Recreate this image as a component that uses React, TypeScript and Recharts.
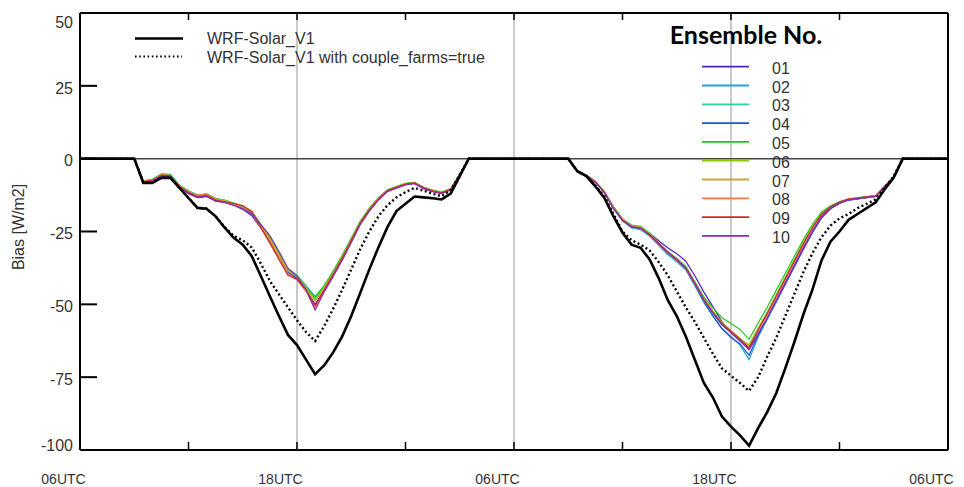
import React from 'react';
import { LineChart, Line, XAxis, YAxis, ReferenceLine } from 'recharts';

// half-hourly steps, 06UTC day 1 -> 06UTC day 3
const hours = [
  0, 0.5, 1, 1.5, 2, 2.5, 3, 3.5, 4, 4.5, 5, 5.5, 6, 6.5, 7, 7.5, 8, 8.5, 9, 9.5,
  10, 10.5, 11, 11.5, 12, 12.5, 13, 13.5, 14, 14.5, 15, 15.5, 16, 16.5, 17, 17.5, 18, 18.5, 19, 19.5,
  20, 20.5, 21, 21.5, 22, 22.5, 23, 23.5, 24, 24.5, 25, 25.5, 26, 26.5, 27, 27.5, 28, 28.5, 29, 29.5,
  30, 30.5, 31, 31.5, 32, 32.5, 33, 33.5, 34, 34.5, 35, 35.5, 36, 36.5, 37, 37.5, 38, 38.5, 39, 39.5,
  40, 40.5, 41, 41.5, 42, 42.5, 43, 43.5, 44, 44.5, 45, 45.5, 46, 46.5, 47, 47.5, 48,
];

const xTicks = [0, 6, 12, 18, 24, 30, 36, 42, 48];
const xTickLabels = ['06UTC', '', '18UTC', '', '06UTC', '', '18UTC', '', '06UTC'];
const yTicks = [-100, -75, -50, -25, 0, 25, 50];

// night-time (bias is zero)
const nightStart = [0, 0, 0, 0, 0, 0, 0];
const nightMid = [0, 0, 0, 0, 0, 0, 0, 0, 0, 0, 0, 0];
const nightEnd = [0, 0, 0, 0, 0, 0];

// daytime values, 09:30 -> 03:00 UTC
const solidDay1 = [-8.3, -8.3, -6.6, -6.6, -10, -13.5, -16.9, -17.2, -19.8, -23.7, -27.2, -29.5, -33.5, -40.3, -47.2, -54, -60.5, -64, -69, -74, -71, -66.5, -61, -54, -46, -38, -30.5, -23.5, -18, -15.5, -13, -13.3, -13.6, -14, -12, -6];
const solidDay2 = [-4.3, -6, -9.5, -13.5, -19.8, -25.4, -29.5, -30.6, -34.6, -41, -48.5, -54, -61, -69, -77, -82, -88.5, -92, -95, -98.5, -92.5, -87, -80.5, -72, -63, -53.5, -45, -35, -28.5, -25, -21, -19, -17, -15, -10.5, -6.5];
const dottedDay1 = [-8.3, -8.3, -6.6, -6.6, -10, -13.5, -16.9, -17.2, -19.8, -23.5, -26.5, -28, -30.5, -36, -42, -46.5, -51, -55.5, -59.5, -62.6, -57.5, -51.5, -45, -38, -31, -25, -19.8, -16, -13.3, -11.5, -10, -11, -12, -12.9, -10.8, -5.5];
const dottedDay2 = [-4.3, -6, -9.3, -13, -19, -25, -28, -29.5, -31.5, -35.5, -40, -45.5, -51, -56, -61.5, -67, -72, -74.5, -77, -79.7, -75, -68, -61.5, -54, -46.5, -39, -32.5, -27, -23, -20.5, -19, -17, -15.5, -14, -10, -6];

const ens01Day1 = [-8.2, -7.8, -6, -6.2, -9.8, -12, -13.4, -13, -14.6, -15, -16, -17.4, -19.6, -23.8, -28.4, -33.6, -39, -41.2, -45.2, -50, -45.4, -40.2, -34.8, -28.6, -22.4, -17.8, -14, -11.2, -10, -8.9, -8.4, -10.2, -11.2, -11.9, -10.6, -5.6];
const ens02Day1 = [-7.6, -7.2, -5.3, -5.5, -9.2, -11.2, -12.8, -12.6, -14, -14.4, -15.4, -16.5, -18.2, -22.6, -27.2, -32.6, -38, -40, -43.6, -47.3, -43.8, -38.8, -33.4, -27.6, -21.6, -17.2, -13.6, -10.9, -9.7, -8.6, -8.2, -9.8, -10.9, -11.6, -10.4, -5.4];
const ens03Day1 = [-7.6, -7.1, -5.2, -5.4, -9.1, -11, -12.5, -12.2, -13.7, -14.3, -15.3, -16.4, -18.3, -22.6, -27.1, -32.8, -38.2, -40.3, -44, -48, -44, -39, -33.5, -27.5, -21.6, -17.2, -13.6, -10.8, -9.6, -8.6, -8.2, -9.9, -10.9, -11.6, -10.4, -5.4];
const ens04Day1 = [-7.9, -7.5, -5.7, -5.9, -9.6, -11.6, -13, -12.8, -14.3, -14.8, -15.9, -17, -19, -23.5, -28, -33.4, -38.8, -40.8, -45, -50.5, -45, -40, -34.4, -28.3, -22.3, -17.7, -14, -11.1, -9.9, -8.8, -8.4, -10.1, -11.1, -11.8, -10.5, -5.5];
const ens05Day1 = [-7.7, -7.2, -5.4, -5.6, -9.2, -11.1, -12.5, -12.1, -13.6, -14.2, -15.2, -16.2, -18, -22.5, -27, -32.5, -38, -40, -44, -47.6, -43.6, -38.6, -33.2, -27.3, -21.4, -17, -13.4, -10.7, -9.6, -8.5, -8.1, -9.8, -10.8, -11.5, -10.3, -5.4];
const ens06Day1 = [-7.8, -7.3, -5.5, -5.7, -9.4, -11.3, -12.7, -12.3, -13.8, -14.4, -15.4, -16.4, -18.2, -22.6, -27.2, -32.8, -38.4, -40.4, -44.4, -48.6, -44.2, -39.2, -33.7, -27.7, -21.7, -17.3, -13.6, -10.9, -9.7, -8.6, -8.2, -9.9, -10.9, -11.6, -10.4, -5.5];
const ens07Day1 = [-7.8, -7.4, -5.6, -5.8, -9.5, -11.4, -12.8, -12.4, -13.9, -14.5, -15.5, -16.5, -18.4, -23.2, -27.8, -33.2, -38.6, -40.6, -44.6, -49, -44.6, -39.6, -34, -28, -22, -17.5, -13.8, -11, -9.8, -8.7, -8.3, -10, -11, -11.7, -10.5, -5.5];
const ens08Day1 = [-7.8, -7.4, -5.6, -5.8, -9.5, -11.5, -12.6, -12.2, -13.8, -14.8, -16, -17, -18.8, -23.6, -28.6, -34, -39.6, -41.6, -45.6, -51.5, -45.4, -40, -34.4, -28.2, -22.2, -17.6, -13.9, -11.1, -9.9, -8.8, -8.4, -10.1, -11.1, -11.8, -10.6, -5.5];
const ens09Day1 = [-7.9, -7.5, -5.7, -5.9, -9.6, -11.6, -13, -12.6, -14.2, -14.8, -15.4, -16.2, -18.2, -23.6, -29, -34.6, -40, -41.4, -45, -50.5, -45, -39.8, -34.2, -28.1, -22.1, -17.6, -13.9, -11, -9.8, -8.7, -8.3, -10, -11, -11.7, -10.5, -5.5];
const ens10Day1 = [-8.1, -7.7, -5.9, -6.1, -9.8, -11.9, -13.3, -12.9, -14.5, -15, -16, -17.2, -18.8, -22.6, -26.4, -31.8, -37.6, -40.4, -45, -52, -45.8, -40.4, -34.8, -28.8, -22.6, -18, -14.2, -11.3, -10.1, -9, -8.6, -10.3, -11.3, -12, -10.8, -5.6];

const ens01Day2 = [-4.4, -5.9, -8.1, -11.6, -16.8, -20.8, -23, -23.6, -25.6, -28.2, -30.6, -32.6, -35.2, -40.2, -45.8, -50.8, -56, -59.6, -62.6, -65.5, -60.4, -55, -49.2, -43.2, -37.2, -31.2, -25.4, -20.4, -17.2, -15.4, -14.2, -13.8, -13.4, -13, -9.6, -6.4];
const ens02Day2 = [-4.2, -5.8, -8.1, -11.8, -17.2, -21.4, -23.8, -24.4, -26.6, -29.6, -32.8, -35.4, -38.2, -43.6, -49.4, -54, -58.2, -61, -64, -69, -61.2, -55.2, -49, -42.8, -36.8, -30.6, -25, -20, -17, -15.2, -14.1, -13.7, -13.3, -13, -9.6, -6.3];
const ens03Day2 = [-4.1, -5.6, -7.8, -11.3, -16.6, -20.8, -23.4, -24, -26.6, -29.8, -33, -35.2, -37.8, -43.4, -49.2, -53.4, -57, -59.6, -62.2, -64, -58.4, -52.8, -46.8, -40.8, -34.8, -28.8, -23.4, -18.8, -16.3, -14.8, -13.9, -13.5, -13.1, -12.8, -9.4, -6.2];
const ens04Day2 = [-4.3, -5.8, -8, -11.6, -17, -21.2, -23.4, -23.9, -26.2, -29.2, -32.4, -34.9, -37.8, -43.2, -49, -54, -58.4, -61.4, -63.6, -67.5, -60.6, -54.8, -48.8, -42.8, -36.8, -30.8, -25, -20.2, -17.1, -15.3, -14.2, -13.8, -13.4, -13, -9.6, -6.4];
const ens05Day2 = [-4.1, -5.6, -7.8, -11.3, -16.5, -20.6, -22.8, -23.2, -25.6, -28.8, -31.8, -34.2, -37, -42.2, -47.4, -51.2, -54.6, -56.6, -58.6, -62, -56.4, -51, -45.2, -39.4, -33.6, -27.8, -22.6, -18.4, -16.2, -14.8, -13.8, -13.4, -13, -12.7, -9.4, -6.2];
const ens06Day2 = [-4.2, -5.7, -7.9, -11.4, -16.7, -20.8, -23, -23.5, -25.8, -28.9, -31.9, -34.4, -37.1, -42.3, -47.8, -52.2, -56.2, -59, -61.6, -64, -58.2, -52.8, -46.8, -40.8, -34.8, -28.8, -23.4, -18.9, -16.4, -14.9, -13.9, -13.5, -13.1, -12.8, -9.4, -6.3];
const ens07Day2 = [-4.2, -5.7, -7.9, -11.5, -16.9, -21, -23.2, -23.7, -26, -29, -32, -34.5, -37.3, -42.6, -48.2, -52.6, -56.4, -59.2, -61.8, -64.5, -58.8, -53.3, -47.3, -41.3, -35.3, -29.3, -23.8, -19.2, -16.5, -15, -14, -13.6, -13.2, -12.9, -9.5, -6.3];
const ens08Day2 = [-4.2, -5.7, -7.9, -11.5, -16.9, -21, -23.2, -23.8, -26.2, -29.3, -32.3, -34.8, -37.6, -43, -48.6, -53, -56.8, -59.6, -62.2, -65, -59, -53.5, -47.5, -41.5, -35.5, -29.5, -24, -19.3, -16.6, -15, -14, -13.6, -13.2, -12.9, -9.5, -6.3];
const ens09Day2 = [-4.3, -5.8, -8, -11.6, -17, -21.1, -23.3, -23.8, -26.1, -29.1, -32.1, -34.6, -37.4, -42.8, -48.4, -52.8, -56.6, -59.4, -62, -65, -58.8, -53.2, -47.2, -41.2, -35.2, -29.2, -23.8, -19.2, -16.5, -14.9, -13.9, -13.5, -13.1, -12.8, -9.4, -6.3];
const ens10Day2 = [-4.3, -5.8, -8, -11.6, -17.1, -21.2, -23.4, -23.9, -26.2, -29.2, -32.2, -34.7, -37.5, -42.7, -48.3, -52.9, -57, -59.8, -62.5, -65.5, -60, -54.6, -48.6, -42.6, -36.6, -30.6, -25, -20, -17, -15.2, -14.1, -13.7, -13.3, -13, -9.6, -6.4];

const ensembleNames = ['01', '02', '03', '04', '05', '06', '07', '08', '09', '10'];
const ensembleColors = ['#4f1fc8', '#22a6dc', '#1fd6a4', '#1a56d0', '#1ec81e', '#8ec800', '#c9a832', '#ff7a42', '#d02828', '#8a2ab8'];
const ensembleDay1 = [ens01Day1, ens02Day1, ens03Day1, ens04Day1, ens05Day1, ens06Day1, ens07Day1, ens08Day1, ens09Day1, ens10Day1];
const ensembleDay2 = [ens01Day2, ens02Day2, ens03Day2, ens04Day2, ens05Day2, ens06Day2, ens07Day2, ens08Day2, ens09Day2, ens10Day2];

const fullSeries = (day1: number[], day2: number[]) => [...nightStart, ...day1, ...nightMid, ...day2, ...nightEnd];

const solid = fullSeries(solidDay1, solidDay2);
const dotted = fullSeries(dottedDay1, dottedDay2);
const ensembles = ensembleDay1.map((d1, k) => fullSeries(d1, ensembleDay2[k]));

const rows = hours.map((h, i) => {
  const row: Record<string, number> = { h, solid: solid[i], dotted: dotted[i] };
  ensembleNames.forEach((n, k) => { row['e' + n] = ensembles[k][i]; });
  return row;
});

const TEXT = '#333';

const BottomTick = (props: any) => {
  const { x, y, payload } = props;
  const label = xTickLabels[xTicks.indexOf(payload.value)];
  return (
    <g>
      <line x1={x} x2={x} y1={y} y2={y - 8} stroke="#000" strokeWidth={1.5} />
      {label ? (
        <text x={x - 16.5} y={y + 34} textAnchor="middle" fontSize={14} fill={TEXT}>{label}</text>
      ) : null}
    </g>
  );
};

const TopTick = (props: any) => {
  const { x, y } = props;
  return <line x1={x} x2={x} y1={y} y2={y + 7} stroke="#000" strokeWidth={1.5} />;
};

const LeftTick = (props: any) => {
  const { x, y, payload } = props;
  const v = payload.value;
  const ty = v === 50 ? y + 9 : v === -100 ? y - 5 : y + 2;
  return (
    <g>
      <line x1={x} x2={x + 17} y1={y} y2={y} stroke="#000" strokeWidth={2} />
      <text x={x - 7} y={ty} dy="0.36em" textAnchor="end" fontSize={16} fill={TEXT}>{v}</text>
    </g>
  );
};

const RightTick = (props: any) => {
  const { x, y } = props;
  return <line x1={x} x2={x - 17} y1={y} y2={y} stroke="#000" strokeWidth={2} />;
};

export default function App() {
  return (
    <div style={{ position: 'relative', width: 964, height: 487, background: '#fff', fontFamily: '"Liberation Sans", Arial, sans-serif' }}>
      <style>{'body{margin:0}'}</style>
      <LineChart width={964} height={487} data={rows} margin={{ top: 0, right: 0, bottom: 0, left: 0 }}>
        <XAxis
          dataKey="h"
          type="number"
          domain={[0, 48]}
          ticks={xTicks}
          height={37}
          tickSize={0}
          tickMargin={0}
          tickLine={false}
          axisLine={{ stroke: '#000', strokeWidth: 2 }}
          tick={BottomTick}
          interval={0}
        />
        <XAxis
          xAxisId="top"
          orientation="top"
          dataKey="h"
          type="number"
          domain={[0, 48]}
          ticks={xTicks}
          height={13}
          tickSize={0}
          tickMargin={0}
          tickLine={false}
          axisLine={{ stroke: '#000', strokeWidth: 2 }}
          tick={TopTick}
          interval={0}
        />
        <YAxis
          type="number"
          domain={[-100, 50]}
          ticks={yTicks}
          width={80}
          tickSize={0}
          tickMargin={0}
          tickLine={false}
          axisLine={{ stroke: '#000', strokeWidth: 2 }}
          tick={LeftTick}
          interval={0}
        />
        <YAxis
          yAxisId="right"
          orientation="right"
          type="number"
          domain={[-100, 50]}
          ticks={yTicks}
          width={16}
          tickSize={0}
          tickMargin={0}
          tickLine={false}
          axisLine={{ stroke: '#000', strokeWidth: 2 }}
          tick={RightTick}
          interval={0}
        />
        {[12, 24, 36].map((h) => (
          <ReferenceLine key={h} x={h} stroke="#a6a6a6" strokeWidth={1.2} />
        ))}
        <ReferenceLine y={0} stroke="#444" strokeWidth={1.5} />
        {ensembleNames.map((n, k) => (
          <Line
            key={n}
            dataKey={'e' + n}
            stroke={ensembleColors[k]}
            strokeWidth={1.2}
            dot={false}
            isAnimationActive={false}
          />
        ))}
        <Line dataKey="dotted" stroke="#000" strokeWidth={2.4} strokeDasharray="2 2.6" dot={false} isAnimationActive={false} />
        <Line dataKey="solid" stroke="#000" strokeWidth={2.6} dot={false} isAnimationActive={false} />
      </LineChart>

      <div style={{ position: 'absolute', left: 0, top: 227, width: 0, height: 0 }}>
        <div style={{ position: 'absolute', left: 19, top: 0, transform: 'translate(-50%, -50%) rotate(-90deg)', whiteSpace: 'nowrap', fontSize: 16, color: TEXT }}>
          Bias [W/m2]
        </div>
      </div>

      <svg style={{ position: 'absolute', left: 0, top: 0 }} width={964} height={487} pointerEvents="none">
        <line x1={135} x2={183} y1={38.5} y2={38.5} stroke="#000" strokeWidth={2.6} />
        <line x1={135} x2={182} y1={56.5} y2={56.5} stroke="#000" strokeWidth={2} strokeDasharray="1.6 2.6" />
        <text x={207} y={38.5} dy="0.36em" fontSize={16} fill={TEXT}>WRF-Solar_V1</text>
        <text x={207} y={57} dy="0.36em" fontSize={16} fill={TEXT}>WRF-Solar_V1 with couple_farms=true</text>

        <text x={746} y={35} dy="0.36em" textAnchor="middle" fontSize={25} fontWeight={700} fontFamily="Lato, sans-serif" fill="#000">Ensemble No.</text>
        {ensembleNames.map((n, k) => (
          <g key={n}>
            <line x1={702} x2={749} y1={66.7 + k * 18.8} y2={66.7 + k * 18.8} stroke={ensembleColors[k]} strokeWidth={1.8} />
            <text x={772} y={68 + k * 18.8} dy="0.36em" fontSize={16} fill={TEXT}>{n}</text>
          </g>
        ))}
      </svg>
    </div>
  );
}
